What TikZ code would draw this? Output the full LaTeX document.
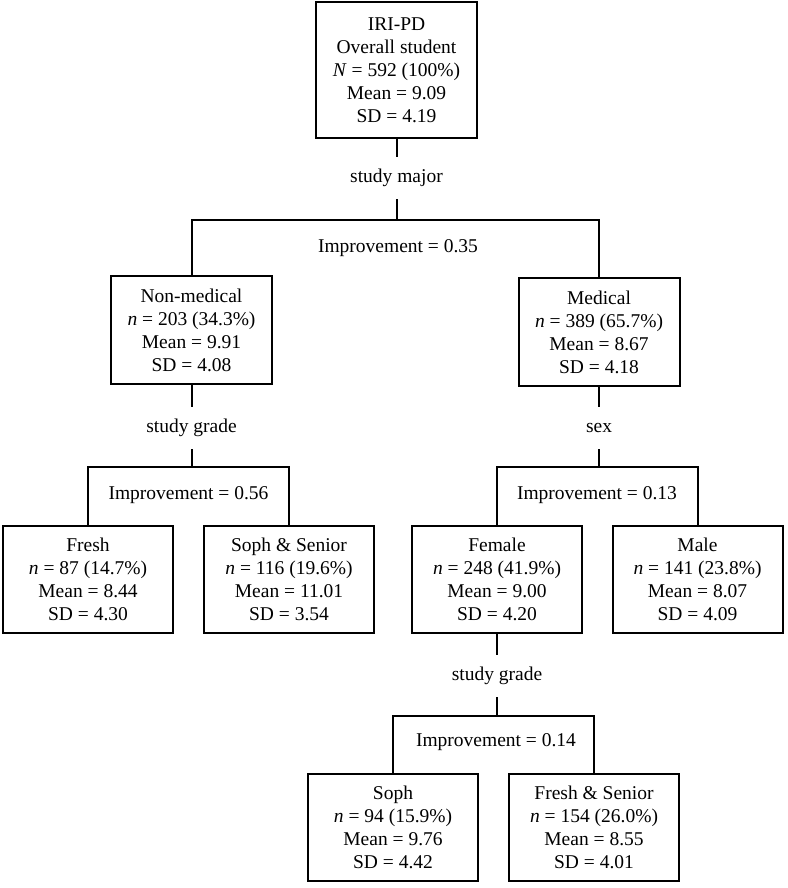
\documentclass[tikz,border=0pt]{standalone}
\usepackage{fontspec}
\setmainfont{Liberation Serif}
\begin{document}
\begin{tikzpicture}[x=1pt,y=-1pt,line width=2pt,
  font=\fontsize{19.5}{23}\selectfont,
  nodebox/.style={draw,align=center,inner sep=0pt,minimum width=161pt,minimum height=108pt},
  leafbox/.style={nodebox,minimum width=170pt,minimum height=107pt},
  splitvar/.style={inner sep=0pt,minimum height=40pt},
  improve/.style={inner sep=0pt}]
\useasboundingbox (0,0) rectangle (787,888);

% root and first split
\node[nodebox,minimum height=136pt] (root) at (396.5,70) {IRI-PD\\Overall student\\\textit{N} = 592 (100\%)\\Mean = 9.09\\SD = 4.19};
\node[splitvar] (major) at (396.5,178) {study major};
\coordinate (bar1) at (396.5,220);
\node[improve] (gain1) at (398,248) {Improvement = 0.35};
\node[nodebox] (nonmed) at (191.5,330) {Non-medical\\\textit{n} = 203 (34.3\%)\\Mean = 9.91\\SD = 4.08};
\node[nodebox] (med) at (599,332) {Medical\\\textit{n} = 389 (65.7\%)\\Mean = 8.67\\SD = 4.18};

\draw (root.south) -- (major.north);
\draw (major.south) -- (bar1);
\draw (nonmed.north) |- (bar1) -| (med.north);

% non-medical split
\node[splitvar] (grade1) at (191.5,428) {study grade};
\coordinate (bar2) at (191.5,467);
\node[improve] (gain2) at (188.5,495) {Improvement = 0.56};
\node[leafbox] (fresh) at (88,579.5) {Fresh\\\textit{n} = 87 (14.7\%)\\Mean = 8.44\\SD = 4.30};
\node[leafbox] (sophsen) at (289,579.5) {Soph \& Senior\\\textit{n} = 116 (19.6\%)\\Mean = 11.01\\SD = 3.54};

\draw (nonmed.south) -- (grade1.north);
\draw (grade1.south) -- (bar2);
\draw (fresh.north) |- (bar2) -| (sophsen.north);

% medical split
\node[splitvar] (sex) at (599,428) {sex};
\coordinate (bar3) at (599,467);
\node[improve] (gain3) at (597,495) {Improvement = 0.13};
\node[leafbox] (female) at (497,579.5) {Female\\\textit{n} = 248 (41.9\%)\\Mean = 9.00\\SD = 4.20};
\node[leafbox] (male) at (697.5,579.5) {Male\\\textit{n} = 141 (23.8\%)\\Mean = 8.07\\SD = 4.09};

\draw (med.south) -- (sex.north);
\draw (sex.south) -- (bar3);
\draw (female.north) |- (bar3) -| (male.north);

% female split
\node[splitvar] (grade2) at (497,676) {study grade};
\coordinate (bar4) at (497,716);
\node[improve] (gain4) at (496,742) {Improvement = 0.14};
\node[leafbox] (soph) at (393,827) {Soph\\\textit{n} = 94 (15.9\%)\\Mean = 9.76\\SD = 4.42};
\node[leafbox] (fresen) at (594,827) {Fresh \& Senior\\\textit{n} = 154 (26.0\%)\\Mean = 8.55\\SD = 4.01};

\draw (female.south) -- (grade2.north);
\draw (grade2.south) -- (bar4);
\draw (soph.north) |- (bar4) -| (fresen.north);
\end{tikzpicture}
\end{document}
